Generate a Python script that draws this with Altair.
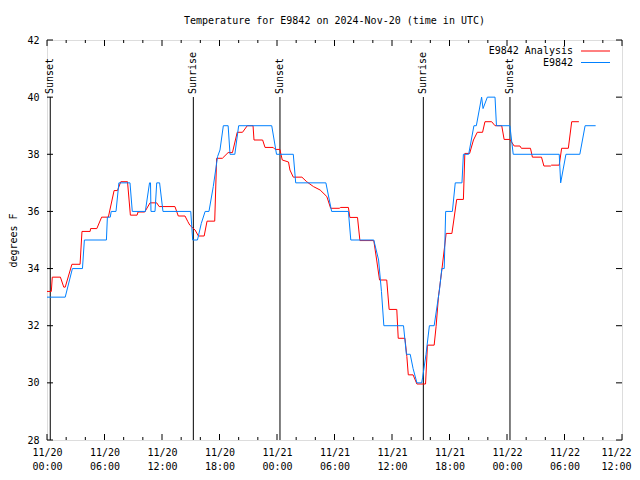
import altair as alt
import pandas as pd
import json

FONT = "DejaVu Sans Mono"
title_text = "Temperature for E9842 on 2024-Nov-20 (time in UTC)"
series_names = ["E9842 Analysis", "E9842"]
series_colors = ["#ff0000", "#0080ff"]

# hours since 2024-11-20 00:00 UTC
red_h = [0.0, 0.45, 0.55, 1.4, 1.75, 1.9, 2.6, 3.45, 3.65, 4.5, 4.55, 5.2, 5.7, 6.4, 7.0, 7.35, 7.7, 8.4,
         8.7, 9.4, 9.5, 10.2, 10.75, 11.45, 11.7, 13.35, 13.7, 14.4, 14.7, 14.9, 15.45, 15.8, 16.4, 16.7,
         17.5, 17.7, 18.3, 18.9, 19.35, 19.85, 20.4, 20.9, 21.5, 21.6, 22.5, 22.75, 23.6, 23.8, 24.3,
         24.55, 25.2, 25.35, 25.7, 26.6, 27.1, 27.8, 28.5, 29.2, 29.6, 30.5, 30.65, 31.45, 31.6, 32.4,
         32.65, 34.1, 34.4, 34.7, 35.45, 35.7, 36.5, 36.65, 37.35, 37.55, 37.7, 38.2, 38.6, 39.5, 39.7,
         40.4, 40.6, 40.85, 41.2, 41.65, 42.25, 42.45, 42.75, 43.45, 43.6, 44.1, 44.5, 44.9, 45.45, 45.7,
         46.4, 46.75, 47.45, 47.7, 48.3, 48.75, 49.35, 49.5, 50.45, 50.65, 51.6, 51.85, 52.55, 52.65,
         53.45, 53.7, 54.4, 54.75, 55.5]
red_t = [33.2, 33.2, 33.7, 33.7, 33.35, 33.35, 34.15, 34.15, 35.3, 35.3, 35.4, 35.4, 35.8, 35.8, 36.73,
         36.73, 37.04, 37.04, 35.87, 35.87, 35.98, 35.98, 36.3, 36.3, 36.17, 36.17, 35.84, 35.84, 35.64,
         35.52, 35.35, 35.14, 35.14, 35.66, 35.66, 37.86, 37.86, 38.06, 38.06, 38.77, 38.77, 39.0, 39.0,
         38.5, 38.5, 38.24, 38.24, 38.17, 38.17, 37.8, 37.73, 37.45, 37.2, 37.2, 37.04, 36.87, 36.75,
         36.52, 36.11, 36.11, 36.14, 36.14, 35.79, 35.79, 34.98, 34.98, 34.3, 33.6, 33.6, 32.57, 32.57,
         31.56, 31.56, 30.92, 30.28, 30.28, 29.96, 29.96, 31.32, 31.32, 31.97, 33.02, 33.95, 35.23, 35.23,
         35.7, 36.42, 36.42, 38.03, 38.03, 38.5, 38.77, 38.77, 39.14, 39.14, 39.0, 39.0, 38.52, 38.52,
         38.29, 38.29, 38.21, 38.21, 37.9, 37.9, 37.59, 37.59, 37.62, 37.62, 38.21, 38.21, 39.14, 39.14]

blue_h = [0.0, 1.9, 2.65, 3.7, 3.9, 6.2, 6.3, 6.6, 6.7, 7.2, 7.5, 8.66, 8.9, 10.26, 10.7, 10.8, 10.85,
          11.27, 11.45, 11.75, 12.1, 15.0, 15.2, 15.7, 16.1, 16.5, 16.9, 17.35, 17.8, 18.05, 18.4, 18.9,
          19.1, 19.6, 20.0, 23.45, 23.95, 25.7, 25.95, 29.1, 29.7, 31.45, 31.7, 34.1, 34.6, 34.9, 35.15,
          37.2, 37.5, 37.9, 38.2, 38.6, 39.1, 39.2, 39.55, 39.9, 40.4, 40.95, 41.2, 41.45, 41.6, 42.3,
          42.6, 43.3, 43.45, 44.0, 44.55, 44.8, 45.35, 45.5, 45.95, 46.75, 46.9, 48.3, 48.65, 53.45,
          53.6, 54.15, 55.6, 56.15, 57.25]
blue_t = [33.0, 33.0, 34.0, 34.0, 35.0, 35.0, 35.8, 35.8, 36.0, 36.0, 37.0, 37.0, 36.0, 36.0, 37.0, 37.0,
          36.0, 36.0, 37.0, 37.0, 36.0, 36.0, 35.0, 35.0, 35.58, 36.0, 36.0, 36.87, 37.92, 38.15, 39.0,
          39.0, 38.0, 38.0, 39.0, 39.0, 38.0, 38.0, 37.0, 37.0, 36.0, 36.0, 35.0, 35.0, 34.3, 33.2, 32.0,
          32.0, 31.0, 31.0, 30.5, 30.0, 30.0, 30.2, 31.0, 32.0, 32.0, 33.25, 34.0, 34.0, 36.0, 36.0,
          37.0, 37.0, 38.0, 38.0, 39.0, 39.0, 40.0, 39.6, 40.0, 40.0, 39.0, 39.0, 38.0, 38.0,
          37.0, 38.0, 38.0, 39.0, 39.0]

event_hours = [0.34, 15.27, 24.31, 39.27, 48.31]
event_labels = ["Sunset", "Sunrise", "Sunset", "Sunrise", "Sunset"]

y_ticks = [28, 30, 32, 34, 36, 38, 40, 42]
x_major = [0, 6, 12, 18, 24, 30, 36, 42, 48, 54, 60]
x_minor = [2, 4, 8, 10, 14, 16, 20, 22, 26, 28, 32, 34, 38, 40, 44, 46, 50, 52, 56, 58]
x_dates = ["11/20", "11/20", "11/20", "11/20", "11/21", "11/21", "11/21", "11/21", "11/22", "11/22", "11/22"]
x_times = ["00:00", "06:00", "12:00", "18:00", "00:00", "06:00", "12:00", "18:00", "00:00", "06:00", "12:00"]

W, H = 575, 400

red = pd.DataFrame({"h": red_h, "t": red_t})
blue = pd.DataFrame({"h": blue_h, "t": blue_t})
events = pd.DataFrame({"h": event_hours, "label": event_labels})

xs = alt.Scale(domain=[0, 60], nice=False, zero=False)
ys = alt.Scale(domain=[28, 42], nice=False, zero=False)

label_expr = "[" + json.dumps(x_dates) + "[round(datum.value/6)], " + json.dumps(x_times) + "[round(datum.value/6)]]"

x_axis = alt.Axis(values=x_major, labelExpr=label_expr, title=None, domain=False, ticks=False, grid=False,
                  labelFont=FONT, labelFontSize=10, labelColor="black", labelPadding=7, labelLineHeight=14,
                  labelBaseline="top", labelFlush=False, labelOverlap=False, labelBound=False,
                  labelAlign={"condition": {"test": "datum.value >= 60", "value": "right"}, "value": "center"},
                  labelOffset={"condition": {"test": "datum.value >= 60", "value": 9}, "value": 0})
y_axis = alt.Axis(values=y_ticks, title="degrees F", domain=False, ticks=False, grid=False,
                  labelFont=FONT, labelFontSize=10, labelColor="black", labelPadding=8,
                  labelFlush=False, labelOverlap=False,
                  titleFont=FONT, titleFontSize=10, titleFontWeight="normal", titleColor="black",
                  titlePadding=8)

X = alt.X("h:Q", scale=xs, axis=x_axis)
Y = alt.Y("t:Q", scale=ys, axis=y_axis)

red_line = alt.Chart(red).mark_line(color=series_colors[0], strokeWidth=1).encode(x=X, y=Y)
blue_line = alt.Chart(blue).mark_line(color=series_colors[1], strokeWidth=1).encode(x=X, y=Y)

ev_rules = alt.Chart(events).mark_rule(color="black", strokeWidth=1).encode(
    x=X, y=alt.value(57), y2=alt.value(H))
ev_text = alt.Chart(events).mark_text(angle=270, align="left", baseline="middle", font=FONT,
                                      fontSize=10, color="black").encode(
    x=X, y=alt.value(54), text="label:N")

yt = pd.DataFrame({"t": y_ticks})
xmaj = pd.DataFrame({"h": x_major})
xmin = pd.DataFrame({"h": x_minor})
tick_color = "black"
yt_left = alt.Chart(yt).mark_rule(color=tick_color).encode(y=Y, x=alt.value(0), x2=alt.value(6))
yt_right = alt.Chart(yt).mark_rule(color=tick_color).encode(y=Y, x=alt.value(W - 6), x2=alt.value(W))
xt_bot = alt.Chart(xmaj).mark_rule(color=tick_color).encode(x=X, y=alt.value(H - 6), y2=alt.value(H))
xt_top = alt.Chart(xmaj).mark_rule(color=tick_color).encode(x=X, y=alt.value(0), y2=alt.value(6))
xm_bot = alt.Chart(xmin).mark_rule(color=tick_color).encode(x=X, y=alt.value(H - 3), y2=alt.value(H))
xm_top = alt.Chart(xmin).mark_rule(color=tick_color).encode(x=X, y=alt.value(0), y2=alt.value(3))

legend_layers = []
for i, (name, col) in enumerate(zip(series_names, series_colors)):
    ypix = 11 + 11.5 * i
    d = pd.DataFrame({"name": [name]})
    legend_layers.append(alt.Chart(d).mark_text(align="right", baseline="middle", font=FONT, fontSize=10,
                                                color="black").encode(
        text="name:N", x=alt.value(526), y=alt.value(ypix)))
    legend_layers.append(alt.Chart(d).mark_rule(color=col, strokeWidth=1).encode(
        x=alt.value(534), x2=alt.value(563), y=alt.value(ypix)))

chart = alt.layer(
    yt_left, yt_right, xt_bot, xt_top, xm_bot, xm_top,
    ev_rules, ev_text, red_line, blue_line, *legend_layers
).properties(
    width=W, height=H,
    title=alt.TitleParams(title_text, font=FONT, fontSize=10, fontWeight="normal", color="black",
                          anchor="middle", offset=9),
    autosize=alt.AutoSizeParams(type="none"),
    padding={"left": 39, "top": 32, "right": 10, "bottom": 36},
).configure_view(stroke="black", strokeWidth=1).configure(background="white")

chart.save("out.html", embed_options={"renderer": "svg", "actions": False})
